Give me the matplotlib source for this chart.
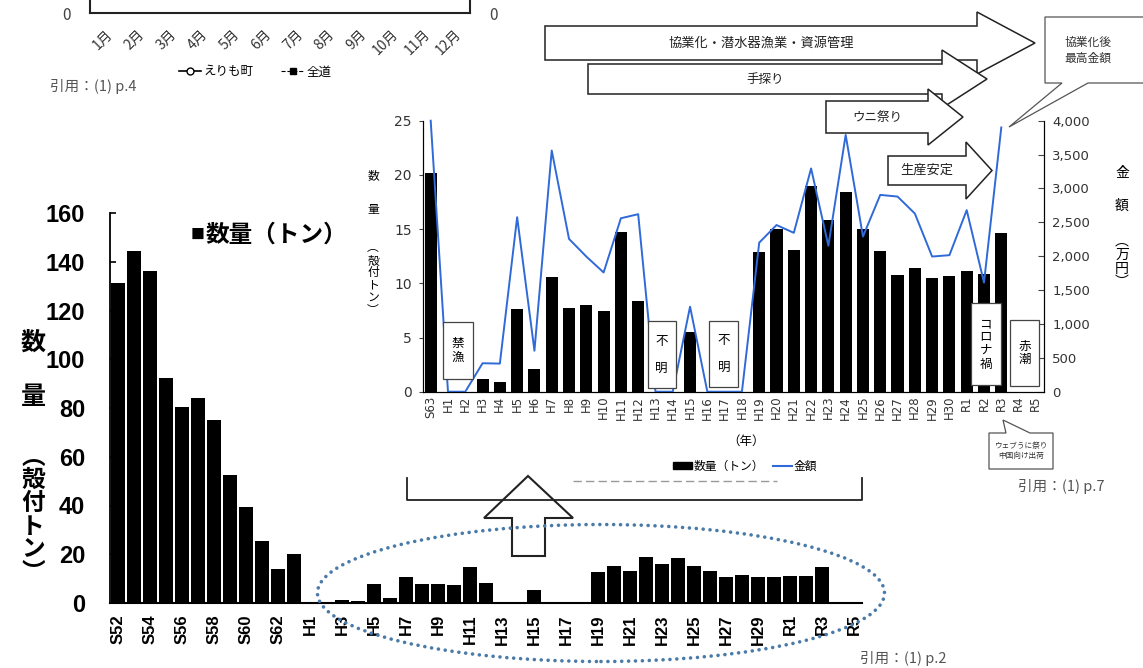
import numpy as np
import matplotlib
matplotlib.use("Agg")
import matplotlib.pyplot as plt
from matplotlib.patches import Polygon, Rectangle, Ellipse
from matplotlib.lines import Line2D

plt.rcParams['font.family'] = ['Noto Sans CJK JP', 'DejaVu Sans']

W, H = 1143, 668

# years S52..S63, H1..H30, R1..R5
years = [f"S{n}" for n in range(52, 64)] + [f"H{n}" for n in range(1, 31)] + [f"R{n}" for n in range(1, 6)]
# catch (shell-on tonnes)
quantity = [131.3, 144.4, 136.2, 92.4, 80.4, 84.2, 75.2, 52.4, 39.3, 25.3, 13.9, 20.2,
            0, 0, 1.2, 0.9, 7.6, 2.1, 10.6, 7.7, 8.0, 7.4,
            14.7, 8.4, 0, 0, 5.5, 0, 0, 0, 12.9, 15.0,
            13.1, 19.0, 15.8, 18.4, 15.0, 13.0, 10.8, 11.4, 10.5, 10.7,
            11.1, 10.9, 14.6, 0, 0]
# inset: S63..R5
inset_years = years[11:]
inset_quantity = quantity[11:]
# value (10k yen), S63..R5
value = [4000, 0, 0, 420, 415, 2575, 605, 3560, 2255, 1995, 1760,
         2560, 2620, 0, 0, 1255, 0, 0, 0, 2200, 2460,
         2345, 3295, 2155, 3790, 2290, 2905, 2880, 2630, 1995, 2015,
         2680, 1610, 3900, np.nan, np.nan]
months = [f"{m}月" for m in range(1, 13)]

NARROW = ['Liberation Sans Narrow', 'Liberation Sans', 'DejaVu Sans']


def fx(x):
    return x / W


def fy(y):
    return 1 - y / H


def pts(seq):
    return [(fx(x), fy(y)) for x, y in seq]


fig = plt.figure(figsize=(W / 100, H / 100), dpi=100)
fig.patch.set_facecolor('white')

# ---- cut-off monthly chart at the top left
ax0 = fig.add_axes([fx(90), fy(13), fx(380), 60 / H])
ax0.set_xlim(0.5, 12.5)
ax0.set_ylim(0, 1)
ax0.set_xticks(range(1, 13))
ax0.set_xticklabels(months, rotation=45, ha='right', rotation_mode='anchor', fontsize=10, color='#333')
ax0.set_yticks([0])
ax0.set_yticklabels(['0'], fontsize=11, color='#444')
ax0.tick_params(axis='x', length=0, pad=10)
ax0.tick_params(axis='y', length=0, pad=14, labelright=True)
ax0.spines['top'].set_visible(False)
for s in ['left', 'right', 'bottom']:
    ax0.spines[s].set_linewidth(1.5)
    ax0.spines[s].set_color('#222')
h0 = [Line2D([], [], color='k', marker='o', mfc='white', ms=5, lw=1.2, label='えりも町'),
      Line2D([], [], color='k', ls='--', marker='s', ms=5, lw=0.8, label='全道')]
fig.legend(handles=h0, loc='center', bbox_to_anchor=(fx(255), fy(72)), ncol=2, frameon=False,
           fontsize=9, columnspacing=2.2, handlelength=1.8, handletextpad=0.2)
fig.text(fx(50), fy(87), '引用：(1) p.4', fontsize=10.5, color='#555', va='center')

# ---- main long-term chart
ax = fig.add_axes([fx(110), fy(603), fx(752), 390 / H])
ax.bar(range(len(years)), quantity, width=0.86, color='black')
ax.set_xlim(-0.5, len(years) - 0.5)
ax.set_ylim(0, 160)
ax.set_yticks(range(0, 161, 20))
ax.set_yticklabels([str(v) for v in range(0, 161, 20)], fontsize=17, fontweight='bold', family=NARROW)
ax.set_xticks(range(0, len(years), 2))
ax.set_xticklabels(years[::2], rotation=90, fontsize=12, fontweight='bold', family=NARROW)
ax.tick_params(axis='y', direction='in', length=4, pad=18, width=1.2)
ax.tick_params(axis='x', length=0, pad=8)
ax.spines['top'].set_visible(False)
ax.spines['right'].set_visible(False)
ax.spines['left'].set_linewidth(1.3)
ax.spines['bottom'].set_linewidth(1.5)
ax.patch.set_alpha(0)

fig.text(fx(33), fy(343), '数', fontsize=18, fontweight='bold', ha='center', va='center')
fig.text(fx(33), fy(397), '量', fontsize=18, fontweight='bold', ha='center', va='center')
fig.text(fx(33), fy(515), '︵\n殻\n付\nト\nン\n︶', fontsize=17, fontweight='bold', ha='center', va='center',
         linespacing=0.95)
fig.text(fx(191), fy(235), '■', fontsize=10, va='center')
fig.text(fx(206), fy(235), '数量（トン）', fontsize=17, fontweight='bold', va='center')

# ---- inset chart
ax2 = fig.add_axes([fx(423), fy(391.7), fx(621), 271 / H])
xi = np.arange(len(inset_years))
ax2.bar(xi, inset_quantity, width=0.7, color='black')
ax2.set_xlim(-0.445, 35.47)
ax2.set_ylim(0, 25)
ax2.set_yticks(range(0, 26, 5))
ax2.set_yticklabels([str(v) for v in range(0, 26, 5)], fontsize=10, color='#333', family='DejaVu Sans')
ax2.set_xticks(xi)
ax2.set_xticklabels(inset_years, rotation=90, fontsize=8.5, color='#333', family='DejaVu Sans')
ax2.tick_params(axis='x', length=0, pad=3)
ax2.tick_params(axis='y', direction='out', length=3, pad=5, color='#444')
ax2.spines['top'].set_visible(False)
ax2.patch.set_alpha(0)

ax3 = ax2.twinx()
ax3.plot(xi, value, color='#2f6ad8', lw=1.4, clip_on=False)
ax3.set_ylim(0, 4000)
ax3.set_yticks(range(0, 4001, 500))
ax3.set_yticklabels([f"{v:,}" for v in range(0, 4001, 500)], fontsize=9.5, color='#333', family='DejaVu Sans')
ax3.tick_params(axis='y', direction='in', length=4, pad=6, color='#444')
ax3.spines['top'].set_visible(False)

# note boxes inside the inset (category position, width, bottom, top, text)
notes = [(1.58, 1.75, 1.2, 6.4, '禁\n漁'),
         (13.36, 1.6, 0.35, 6.5, '不\n\n明'),
         (16.95, 1.7, 0.4, 6.5, '不\n\n明'),
         (32.1, 1.73, 0.6, 8.2, 'コ\nロ\nナ\n禍'),
         (34.35, 1.7, 0.5, 6.6, '赤\n潮')]
for cx, w, b, t, txt in notes:
    ax3.add_patch(Rectangle((cx - w / 2, b), w, t - b, transform=ax2.transData, facecolor='white',
                            edgecolor='#444', lw=0.9, zorder=5))
    ax3.text(cx, (b + t) / 2, txt, transform=ax2.transData, ha='center', va='center', fontsize=9,
             linespacing=1.05, zorder=6)

fig.text(fx(373), fy(176), '数', fontsize=8.5, ha='center', va='center')
fig.text(fx(373), fy(210), '量', fontsize=8.5, ha='center', va='center')
fig.text(fx(373), fy(279), '︵\n殻\n付\nト\nン\n︶', fontsize=8.5, ha='center', va='center', linespacing=0.95)
fig.text(fx(1122), fy(173), '金', fontsize=10, ha='center', va='center')
fig.text(fx(1122), fy(206), '額', fontsize=10, ha='center', va='center')
fig.text(fx(1122), fy(262), '︵\n万\n円\n︶', fontsize=10, ha='center', va='center', linespacing=0.95)
fig.text(fx(746), fy(441), '（年）', fontsize=9, ha='center', va='center')

h2 = [Rectangle((0, 0), 1, 1, color='black', label='数量（トン）'),
      Line2D([], [], color='#2f6ad8', lw=1.5, label='金額')]
fig.legend(handles=h2, loc='center', bbox_to_anchor=(fx(745), fy(466)), ncol=2, frameon=False,
           fontsize=8.5, columnspacing=0.7, handlelength=1.6, handleheight=0.5, handletextpad=0.2)
fig.add_artist(Line2D([fx(573), fx(777)], [fy(481), fy(481)], color='#999', ls=(0, (6, 3)), lw=1))
fig.text(fx(1018), fy(486), '引用：(1) p.7', fontsize=10.5, color='#555', va='center')


# ---- block arrows over the inset
def block_arrow(x0, xb, xt, yb0, yb1, yh0, yh1, label, fs):
    poly = [(x0, yb0), (xb, yb0), (xb, yh0), (xt, (yh0 + yh1) / 2), (xb, yh1), (xb, yb1), (x0, yb1)]
    fig.add_artist(Polygon(pts(poly), closed=True, facecolor='white', edgecolor='#222', lw=1.1,
                           transform=fig.transFigure))
    fig.text(fx((x0 + xb) / 2), fy((yb0 + yb1) / 2), label, fontsize=fs, ha='center', va='center',
             color='#222')


block_arrow(545, 977, 1035, 26, 60, 12, 74, '協業化・潜水器漁業・資源管理', 9.5)
block_arrow(588, 942, 987, 64, 94, 50, 108, '手探り', 9)
block_arrow(826, 928, 963, 101, 133, 89, 145, 'ウニ祭り', 9)
block_arrow(888, 966, 992, 156, 185, 142, 199, '生産安定', 9.5)

# callouts
call1 = [(1045, 17), (1150, 17), (1150, 83), (1088, 83), (1009, 127), (1062, 83), (1045, 83)]
fig.add_artist(Polygon(pts(call1), closed=True, facecolor='white', edgecolor='#555', lw=0.9,
                       transform=fig.transFigure))
fig.text(fx(1088), fy(50), '協業化後\n最高金額', fontsize=8.5, ha='center', va='center', linespacing=1.3,
         color='#333')
call2 = [(989, 433), (1006, 433), (1003, 420), (1030, 433), (1053, 433), (1053, 469), (989, 469)]
fig.add_artist(Polygon(pts(call2), closed=True, facecolor='white', edgecolor='#555', lw=0.9,
                       transform=fig.transFigure))
fig.text(fx(1021), fy(451), 'ウェブうに祭り\n中国向け出荷', fontsize=5.5, ha='center', va='center',
         linespacing=1.4, color='#333')

# ---- bracket, up arrow and dotted ellipse linking the two charts
fig.add_artist(Line2D([fx(407), fx(407), fx(862), fx(862)], [fy(478), fy(500), fy(500), fy(478)],
                      color='#222', lw=1.3))
up = [(528, 476), (573, 518), (545, 518), (545, 556), (512, 556), (512, 518), (484, 518)]
fig.add_artist(Polygon(pts(up), closed=True, facecolor='white', edgecolor='#222', lw=1.5,
                       transform=fig.transFigure))
ell = Ellipse((fx(601), fy(593)), fx(567), 137 / H, transform=fig.transFigure, fill=False,
              edgecolor='#4a7aa8', lw=2.6, ls=(0, (0.01, 1.9)))
ell.set_capstyle('round')
fig.add_artist(ell)
fig.text(fx(860), fy(658), '引用：(1) p.2', fontsize=10.5, color='#555', va='center')

fig.savefig('out.png', dpi=100)
